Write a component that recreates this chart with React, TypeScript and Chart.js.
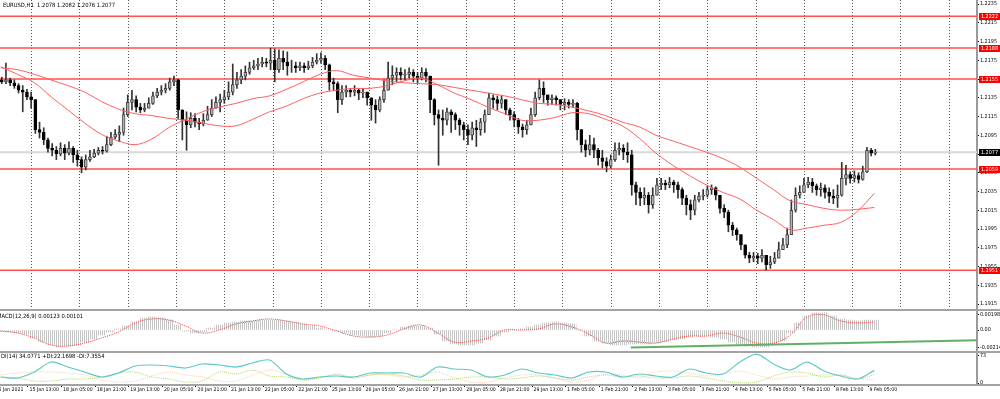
import React, { useEffect, useRef } from 'react';
import { Chart, registerables } from 'chart.js';
Chart.register(...registerables);

const FONT = "'Liberation Sans Narrow', 'DejaVu Sans Condensed', 'Liberation Sans', sans-serif";

// ---------- time axis (hourly bar index) ----------
const X_MIN = -0.33;
const X_MAX = 464.9;
const GRID_START = 14.43;
const GRID_STEP = 23;
const tickBars = [-3.2, 13, 29, 45, 61, 77, 93, 109, 125, 141, 157, 173, 189, 205, 221, 237, 253, 269, 285, 301, 317, 333, 349, 365, 381, 397, 413];
const tickLabels = ['15 Jan 2021', '15 Jan 13:00', '18 Jan 05:00', '18 Jan 21:00', '19 Jan 13:00', '20 Jan 05:00', '20 Jan 21:00', '21 Jan 13:00', '22 Jan 05:00', '22 Jan 21:00', '25 Jan 13:00', '26 Jan 05:00', '26 Jan 21:00', '27 Jan 13:00', '28 Jan 05:00', '28 Jan 21:00', '29 Jan 13:00', '1 Feb 05:00', '1 Feb 21:00', '2 Feb 13:00', '3 Feb 05:00', '3 Feb 21:00', '4 Feb 13:00', '5 Feb 05:00', '5 Feb 21:00', '8 Feb 13:00', '9 Feb 05:00'];

// ---------- price panel ----------
const titleText = 'EURUSD,H1  1.2078 1.2082 1.2076 1.2077';
const PRICE_MIN = 1.190967;
const PRICE_MAX = 1.223927;
const priceTicks = [1.2235, 1.2215, 1.2195, 1.2175, 1.2155, 1.2135, 1.2115, 1.2095, 1.2075, 1.2055, 1.2035, 1.2015, 1.1995, 1.1975, 1.1955, 1.1935, 1.1915];
const levelPrices = [1.2222, 1.2188, 1.2155, 1.2059, 1.1951];
const lastPrice = 1.2077;

// 2-hour candles, open = previous close
const firstOpen = 1.2154;
const candleClose = [
  1.2152, 1.2154, 1.2151, 1.2148, 1.2143, 1.2141, 1.2136, 1.2133, 1.2101, 1.2098,
  1.2090, 1.2081, 1.2079, 1.2075, 1.2081, 1.2076, 1.2081, 1.2074, 1.2069, 1.2061,
  1.2069, 1.2072, 1.2076, 1.2079, 1.2078, 1.2085, 1.2093, 1.2096, 1.2098, 1.2117,
  1.2130, 1.2133, 1.2125, 1.2122, 1.2124, 1.2129, 1.2137, 1.2141, 1.2143, 1.2145,
  1.2152, 1.2154, 1.2122, 1.2111, 1.2106, 1.2113, 1.2109, 1.2107, 1.2111, 1.2117,
  1.2124, 1.2130, 1.2133, 1.2136, 1.2141, 1.2149, 1.2154, 1.2158, 1.2162, 1.2167,
  1.2169, 1.2171, 1.2173, 1.2172, 1.2175, 1.2165, 1.2177, 1.2173, 1.2169, 1.2169,
  1.2167, 1.2169, 1.2167, 1.2169, 1.2173, 1.2175, 1.2177, 1.2170, 1.2152, 1.2150,
  1.2133, 1.2141, 1.2143, 1.2141, 1.2143, 1.2140, 1.2141, 1.2135, 1.2127, 1.2122,
  1.2133, 1.2143, 1.2156, 1.2159, 1.2162, 1.2159, 1.2160, 1.2162, 1.2158, 1.2156,
  1.2162, 1.2158, 1.2133, 1.2117, 1.2113, 1.2111, 1.2120, 1.2117, 1.2111, 1.2106,
  1.2101, 1.2095, 1.2103, 1.2101, 1.2109, 1.2117, 1.2135, 1.2133, 1.2129, 1.2133,
  1.2122, 1.2117, 1.2111, 1.2104, 1.2101, 1.2106, 1.2117, 1.2135, 1.2145, 1.2138,
  1.2133, 1.2135, 1.2133, 1.2128, 1.2130, 1.2128, 1.2129, 1.2101, 1.2085, 1.2079,
  1.2085, 1.2079, 1.2071, 1.2067, 1.2062, 1.2069, 1.2079, 1.2081, 1.2077, 1.2074,
  1.2042, 1.2034, 1.2028, 1.2031, 1.2021, 1.2031, 1.2042, 1.2044, 1.2042, 1.2045,
  1.2042, 1.2037, 1.2028, 1.2021, 1.2015, 1.2026, 1.2030, 1.2031, 1.2037, 1.2039,
  1.2031, 1.2017, 1.2013, 1.1999, 1.1994, 1.1989, 1.1978, 1.1967, 1.1964, 1.1966,
  1.1964, 1.1967, 1.1957, 1.1960, 1.1964, 1.1973, 1.1978, 1.1989, 1.2015, 1.2031,
  1.2034, 1.2042, 1.2045, 1.2041, 1.2037, 1.2039, 1.2034, 1.2030, 1.2028, 1.2031,
  1.2049, 1.2053, 1.2049, 1.2052, 1.2048, 1.2056, 1.2079, 1.2076, 1.2077
];
const candleHigh = [
  1.2157, 1.2172, 1.2156, 1.2154, 1.2150, 1.2148, 1.2144, 1.2141, 1.2133, 1.2109,
  1.2103, 1.2092, 1.2086, 1.2083, 1.2087, 1.2085, 1.2088, 1.2083, 1.2079, 1.2072,
  1.2074, 1.2079, 1.2080, 1.2082, 1.2083, 1.2094, 1.2098, 1.2101, 1.2105, 1.2124,
  1.2138, 1.2143, 1.2137, 1.2129, 1.2129, 1.2135, 1.2141, 1.2145, 1.2148, 1.2150,
  1.2156, 1.2158, 1.2155, 1.2122, 1.2120, 1.2119, 1.2118, 1.2113, 1.2118, 1.2126,
  1.2133, 1.2136, 1.2139, 1.2143, 1.2152, 1.2171, 1.2162, 1.2165, 1.2169, 1.2173,
  1.2175, 1.2177, 1.2178, 1.2177, 1.2188, 1.2187, 1.2186, 1.2185, 1.2184, 1.2175,
  1.2173, 1.2173, 1.2172, 1.2174, 1.2178, 1.2182, 1.2183, 1.2180, 1.2171, 1.2156,
  1.2152, 1.2148, 1.2148, 1.2145, 1.2148, 1.2145, 1.2145, 1.2141, 1.2135, 1.2133,
  1.2136, 1.2154, 1.2173, 1.2169, 1.2167, 1.2167, 1.2165, 1.2167, 1.2165, 1.2162,
  1.2167, 1.2166, 1.2158, 1.2134, 1.2122, 1.2122, 1.2124, 1.2122, 1.2119, 1.2113,
  1.2109, 1.2106, 1.2109, 1.2111, 1.2113, 1.2122, 1.2140, 1.2138, 1.2137, 1.2137,
  1.2133, 1.2124, 1.2120, 1.2113, 1.2107, 1.2111, 1.2124, 1.2141, 1.2154, 1.2152,
  1.2138, 1.2138, 1.2137, 1.2133, 1.2134, 1.2133, 1.2133, 1.2130, 1.2101, 1.2090,
  1.2095, 1.2092, 1.2081, 1.2079, 1.2071, 1.2074, 1.2087, 1.2087, 1.2085, 1.2087,
  1.2079, 1.2045, 1.2039, 1.2039, 1.2034, 1.2039, 1.2049, 1.2049, 1.2047, 1.2050,
  1.2047, 1.2045, 1.2039, 1.2031, 1.2026, 1.2031, 1.2034, 1.2037, 1.2041, 1.2042,
  1.2040, 1.2031, 1.2021, 1.2015, 1.2002, 1.1996, 1.1989, 1.1978, 1.1970, 1.1970,
  1.1969, 1.1973, 1.1967, 1.1966, 1.1970, 1.1981, 1.1985, 1.1996, 1.2026, 1.2039,
  1.2041, 1.2049, 1.2050, 1.2049, 1.2043, 1.2044, 1.2042, 1.2039, 1.2037, 1.2042,
  1.2066, 1.2063, 1.2056, 1.2057, 1.2055, 1.2062, 1.2082, 1.2081, 1.2080
];
const candleLow = [
  1.2150, 1.2150, 1.2148, 1.2145, 1.2140, 1.2120, 1.2133, 1.2124, 1.2097, 1.2092,
  1.2085, 1.2077, 1.2073, 1.2069, 1.2073, 1.2069, 1.2074, 1.2066, 1.2062, 1.2055,
  1.2058, 1.2067, 1.2071, 1.2074, 1.2075, 1.2077, 1.2084, 1.2091, 1.2088, 1.2095,
  1.2115, 1.2122, 1.2120, 1.2119, 1.2120, 1.2124, 1.2128, 1.2135, 1.2138, 1.2140,
  1.2143, 1.2148, 1.2113, 1.2090, 1.2079, 1.2103, 1.2104, 1.2101, 1.2105, 1.2111,
  1.2115, 1.2124, 1.2120, 1.2129, 1.2133, 1.2138, 1.2145, 1.2150, 1.2154, 1.2160,
  1.2165, 1.2165, 1.2168, 1.2168, 1.2165, 1.2152, 1.2162, 1.2165, 1.2159, 1.2162,
  1.2162, 1.2164, 1.2162, 1.2165, 1.2167, 1.2171, 1.2172, 1.2165, 1.2143, 1.2143,
  1.2119, 1.2128, 1.2136, 1.2136, 1.2137, 1.2133, 1.2135, 1.2127, 1.2111, 1.2108,
  1.2120, 1.2130, 1.2143, 1.2149, 1.2152, 1.2154, 1.2154, 1.2156, 1.2152, 1.2150,
  1.2154, 1.2152, 1.2119, 1.2106, 1.2063, 1.2095, 1.2106, 1.2098, 1.2101, 1.2095,
  1.2090, 1.2085, 1.2090, 1.2083, 1.2095, 1.2098, 1.2117, 1.2124, 1.2122, 1.2124,
  1.2117, 1.2111, 1.2104, 1.2097, 1.2093, 1.2096, 1.2106, 1.2115, 1.2133, 1.2130,
  1.2127, 1.2128, 1.2127, 1.2122, 1.2122, 1.2124, 1.2125, 1.2090, 1.2077, 1.2072,
  1.2074, 1.2071, 1.2063, 1.2060, 1.2056, 1.2060, 1.2067, 1.2074, 1.2069, 1.2066,
  1.2031, 1.2021, 1.2020, 1.2021, 1.2012, 1.2017, 1.2031, 1.2037, 1.2037, 1.2039,
  1.2034, 1.2028, 1.2021, 1.2010, 1.2005, 1.2010, 1.2024, 1.2026, 1.2029, 1.2032,
  1.2026, 1.2012, 1.2007, 1.1992, 1.1988, 1.1983, 1.1973, 1.1964, 1.1959, 1.1960,
  1.1958, 1.1960, 1.1951, 1.1953, 1.1958, 1.1964, 1.1973, 1.1975, 1.1989, 1.2013,
  1.2028, 1.2034, 1.2039, 1.2034, 1.2031, 1.2030, 1.2028, 1.2023, 1.2022, 1.2018,
  1.2030, 1.2042, 1.2044, 1.2045, 1.2044, 1.2047, 1.2055, 1.2073, 1.2074
];

// moving averages, one value every 8 hourly bars
const MA_STEP = 8;
const maOne = [
  1.2168, 1.2160, 1.2151, 1.2136, 1.2122, 1.2108, 1.2096, 1.2089, 1.2085, 1.2091,
  1.2103, 1.2112, 1.2120, 1.2125, 1.2129, 1.2134, 1.2137, 1.2144, 1.2152, 1.2160,
  1.2164, 1.2159, 1.2156, 1.2153, 1.2151, 1.2150, 1.2149, 1.2146, 1.2143, 1.2140,
  1.2137, 1.2133, 1.2129, 1.2128, 1.2125, 1.2121, 1.2116, 1.2109, 1.2104, 1.2095,
  1.2089, 1.2083, 1.2077, 1.2070, 1.2061, 1.2049, 1.2037, 1.2025, 1.2021, 1.2017,
  1.2015, 1.2016, 1.2018
];
const maTwo = [
  1.2167, 1.2165, 1.2160, 1.2154, 1.2148, 1.2141, 1.2131, 1.2123, 1.2118, 1.2116,
  1.2113, 1.2111, 1.2108, 1.2105, 1.2105, 1.2112, 1.2120, 1.2126, 1.2134, 1.2140,
  1.2143, 1.2145, 1.2145, 1.2148, 1.2153, 1.2156, 1.2149, 1.2140, 1.2133, 1.2125,
  1.2118, 1.2111, 1.2111, 1.2114, 1.2119, 1.2118, 1.2112, 1.2105, 1.2092, 1.2076,
  1.2063, 1.2052, 1.2042, 1.2034, 1.2027, 1.2015, 1.2005, 1.1994, 1.1996, 1.1999,
  1.2002, 1.2014, 1.2033
];

// ---------- MACD panel ----------
const macdTitle = 'MACD(12,26,9) 0.00123 0.00101';
const MACD_MIN = -0.002625;
const MACD_MAX = 0.002375;
const macdTickValues = [0.00198, 0, -0.00214];
const macdTickLabels = ['0.00198', '0.00', '-0.00214'];
const HIST_STEP = 4;
const macdHist = [
  -0.00013, -0.00025, -0.00038, -0.0005, -0.001, -0.0015, -0.00188, -0.00213, -0.002, -0.00188,
  -0.0015, -0.00113, -0.00063, -0.00025, 0.00013, 0.0005, 0.001, 0.0015, 0.00163, 0.0015,
  0.00125, 0.00063, -0.00013, -0.00038, -0.00025, 0.00025, 0.00063, 0.00088, 0.001, 0.00113,
  0.00113, 0.00125, 0.00125, 0.00125, 0.00113, 0.001, 0.00075, 0.0005, 0.00025, 0,
  -0.00013, -0.00038, -0.00063, -0.00075, -0.00088, -0.00075, -0.00038, 0, 0.00038, 0.0005,
  0.0005, 0.00025, -0.0005, -0.00138, -0.00175, -0.00188, -0.00188, -0.00163, -0.00125, -0.00075,
  -0.00025, 0, 0.00013, 0.00038, 0.00063, 0.00088, 0.001, 0.00088, 0.00075, 0,
  -0.00075, -0.00138, -0.00163, -0.00188, -0.00188, -0.00175, -0.00175, -0.00175, -0.00163, -0.0015,
  -0.00125, -0.00113, -0.00088, -0.00075, -0.00075, -0.00088, -0.00113, -0.0015, -0.00175, -0.002,
  -0.00213, -0.00213, -0.00188, -0.00138, -0.00038, 0.00088, 0.00175, 0.00213, 0.00213, 0.00175,
  0.00138, 0.00125, 0.00113, 0.00125, 0.00123
];
const SIG_STEP = 8;
const macdSignal = [
  -0.00013, -0.00038, -0.001, -0.00188, -0.002, -0.00163, -0.001, -0.00025, 0.00088, 0.00138,
  0.00125, 0.0005, -0.00038, 0, 0.00075, 0.00113, 0.00138, 0.00113, 0.00075, 0.0005,
  -0.00013, -0.00075, -0.00088, -0.00063, 0.00013, 0.00063, -0.00038, -0.0015, -0.00138, -0.001,
  0, 0, 0.00013, 0.00075, 0.00038, -0.0005, -0.00163, -0.00138, -0.0015, -0.00163,
  -0.00113, -0.00075, -0.00075, -0.00038, -0.00088, -0.00163, -0.00163, -0.00063, 0.00163, 0.00188,
  0.00113, 0.00088, 0.00101
];
const trendBars = [300, 464.9];
const trendValues = [-0.0022, -0.00129];

// ---------- ADX / DI panel ----------
const dmiTitle = 'DI(14) 34.0771 +DI:22.1698 -DI:7.3554';
const DMI_MIN = -2.7;
const DMI_MAX = 81.1;
const dmiTickValues = [73, 0];
const DMI_STEP = 8;
const adxLine = [
  16.2, 13.5, 29.7, 56.7, 43.2, 29.7, 16.2, 27, 45.9, 48.6,
  45.9, 40.5, 51.3, 48.6, 43.2, 54, 62.1, 24.3, 10.8, 16.2,
  18.9, 16.2, 27, 27, 27, 16.2, 43.2, 37.8, 35.1, 16.2,
  21.6, 37.8, 27, 21.6, 13.5, 29.7, 29.7, 16.2, 24.3, 18.9,
  16.2, 37.8, 27, 24.3, 56.7, 78.3, 51.3, 35.1, 56.7, 32.4,
  18.9, 10.8, 34.1
];
const plusDI = [
  16.2, 13.5, 5.4, 5.4, 10.8, 10.8, 16.2, 27, 29.7, 16.2,
  10.8, 2.7, 5.4, 29.7, 24.3, 35.1, 18.9, 16.2, 8.1, 13.5,
  24.3, 13.5, 21.6, 24.3, 18.9, 8.1, 8.1, 10.8, 16.2, 16.2,
  10.8, 13.5, 18.9, 13.5, 8.1, 16.2, 21.6, 16.2, 18.9, 13.5,
  13.5, 18.9, 13.5, 5.4, 0.5, 2.7, 18.9, 29.7, 27, 16.2,
  21.6, 10.8, 22.2
];
const minusDI = [
  21.6, 27, 29.7, 29.7, 27, 21.6, 8.1, 2.7, 5.4, 18.9,
  29.7, 21.6, 16.2, 5.4, 5.4, 21.6, 35.1, 24.3, 10.8, 16.2,
  21.6, 16.2, 21.6, 21.6, 16.2, 21.6, 29.7, 13.5, 2.7, 2.7,
  13.5, 21.6, 21.6, 13.5, 2.7, 8.1, 24.3, 21.6, 13.5, 29.7,
  32.4, 27, 18.9, 24.3, 32.4, 21.6, 10.8, 16.2, 18.9, 21.6,
  21.6, 13.5, 7.4
];

// ---------- helpers ----------
const yTickFont = { family: FONT, size: 5.4 };
const xTickFont = { family: FONT, size: 5.2 };

function rightAxis(min: number, max: number, values: number[], fmt: (v: number) => string) {
  return {
    position: 'right' as const,
    min,
    max,
    afterBuildTicks: (s: any) => {
      s.ticks = values.map((v) => ({ value: v }));
    },
    afterFit: (s: any) => {
      s.width = 23;
      s.paddingTop = 0;
      s.paddingBottom = 0;
    },
    ticks: {
      font: yTickFont,
      color: '#000',
      padding: 1,
      autoSkip: false,
      callback: (v: any) => fmt(Number(v)),
    },
    grid: { drawOnChartArea: false, drawTicks: true, tickLength: 2, color: '#000' },
    border: { display: true, color: '#9a9a9a', width: 2 },
  };
}

const hiddenX = { type: 'linear' as const, min: X_MIN, max: X_MAX, display: false, offset: false, grid: { offset: false } };

function baseOptions(scales: any, plugins: any = {}) {
  return {
    responsive: false,
    animation: false as const,
    devicePixelRatio: 1,
    events: [] as any[],
    layout: { padding: 0 },
    plugins: { legend: { display: false }, tooltip: { enabled: false }, ...plugins },
    scales,
  };
}

export default function App() {
  const pRef = useRef<HTMLCanvasElement>(null);
  const mRef = useRef<HTMLCanvasElement>(null);
  const dRef = useRef<HTMLCanvasElement>(null);

  useEffect(() => {
    const opens = candleClose.map((_, i) => (i === 0 ? firstOpen : candleClose[i - 1]));
    const cx = (i: number) => 2 * i + 0.5;

    const pricePlugin = {
      id: 'priceDecor',
      beforeDatasetsDraw(chart: any) {
        const { ctx, chartArea, scales } = chart;
        const xs = scales.x;
        const ys = scales.y;
        ctx.save();
        ctx.strokeStyle = '#555';
        ctx.lineWidth = 1;
        ctx.setLineDash([1, 2]);
        for (let h = GRID_START; h <= X_MAX; h += GRID_STEP) {
          const x = Math.round(xs.getPixelForValue(h)) + 0.5;
          ctx.beginPath();
          ctx.moveTo(x, chartArea.top);
          ctx.lineTo(x, chartArea.bottom);
          ctx.stroke();
        }
        ctx.setLineDash([]);
        const yl = ys.getPixelForValue(lastPrice);
        ctx.strokeStyle = '#d9d9d9';
        ctx.lineWidth = 2;
        ctx.beginPath();
        ctx.moveTo(chartArea.left, yl);
        ctx.lineTo(chartArea.right, yl);
        ctx.stroke();
        ctx.strokeStyle = 'rgb(255,80,80)';
        ctx.lineWidth = 1.5;
        levelPrices.forEach((p) => {
          const y = ys.getPixelForValue(p);
          ctx.beginPath();
          ctx.moveTo(chartArea.left, y);
          ctx.lineTo(chartArea.right, y);
          ctx.stroke();
        });
        ctx.restore();
      },
      afterDraw(chart: any) {
        const { ctx, chartArea, scales } = chart;
        const ys = scales.y;
        ctx.save();
        ctx.textBaseline = 'middle';
        ctx.textAlign = 'left';
        ctx.font = `5.4px ${FONT}`;
        const box = (p: number, bg: string) => {
          const y = ys.getPixelForValue(p);
          ctx.fillStyle = bg;
          ctx.fillRect(chartArea.right + 2, Math.round(y) - 3, 21, 7);
          ctx.fillStyle = '#fff';
          ctx.fillText(p.toFixed(4), chartArea.right + 4, Math.round(y) + 0.5);
        };
        levelPrices.forEach((p) => box(p, '#ff0000'));
        box(lastPrice, '#000000');
        ctx.font = `5.8px ${FONT}`;
        ctx.fillStyle = '#000';
        ctx.fillText(titleText, 3, 5);
        ctx.restore();
      },
    };

    const priceChart = new Chart(pRef.current as HTMLCanvasElement, {
      type: 'bar',
      data: {
        datasets: [
          {
            type: 'line',
            data: maOne.map((v, i) => ({ x: i * MA_STEP, y: v })),
            borderColor: 'rgb(255,95,95)',
            borderWidth: 1,
            pointRadius: 0,
            tension: 0.35,
            order: 1,
          },
          {
            type: 'line',
            data: maTwo.map((v, i) => ({ x: i * MA_STEP, y: v })),
            borderColor: 'rgb(255,95,95)',
            borderWidth: 1,
            pointRadius: 0,
            tension: 0.35,
            order: 1,
          },
          {
            type: 'bar',
            data: candleClose.map((_, i) => ({ x: cx(i), y: [candleLow[i], candleHigh[i]] })),
            backgroundColor: '#333',
            barThickness: 1,
            grouped: false,
            order: 3,
          },
          {
            type: 'bar',
            data: candleClose.map((c, i) => ({ x: cx(i), y: [opens[i], c] })),
            backgroundColor: candleClose.map((c, i) => (c >= opens[i] ? '#b4b4b4' : '#000000')),
            borderColor: candleClose.map((c, i) => (c >= opens[i] ? '#444' : '#000')),
            borderWidth: 1,
            borderSkipped: false,
            barThickness: 3,
            grouped: false,
            order: 2,
          },
        ] as any,
      },
      options: baseOptions({
        x: hiddenX,
        y: rightAxis(PRICE_MIN, PRICE_MAX, priceTicks, (v) => v.toFixed(4)),
      }) as any,
      plugins: [pricePlugin],
    });

    // MACD
    const pc = document.createElement('canvas');
    pc.width = 2;
    pc.height = 1;
    const pg = pc.getContext('2d') as CanvasRenderingContext2D;
    pg.fillStyle = '#c4c4c4';
    pg.fillRect(0, 0, 1, 1);
    const mctx = (mRef.current as HTMLCanvasElement).getContext('2d') as CanvasRenderingContext2D;
    const hatch = mctx.createPattern(pc, 'repeat') as CanvasPattern;

    const titlePlugin = (text: string, x: number, y: number) => ({
      id: 'title' + y,
      afterDraw(chart: any) {
        const ctx = chart.ctx;
        ctx.save();
        ctx.font = `5.8px ${FONT}`;
        ctx.textBaseline = 'middle';
        ctx.textAlign = 'left';
        ctx.fillStyle = '#000';
        ctx.fillText(text, x, y);
        ctx.restore();
      },
    });

    const macdChart = new Chart(mRef.current as HTMLCanvasElement, {
      type: 'bar',
      data: {
        datasets: [
          {
            type: 'line',
            data: trendBars.map((b, i) => ({ x: b, y: trendValues[i] })),
            borderColor: 'rgb(100,175,100)',
            borderWidth: 2,
            pointRadius: 0,
            order: 0,
          },
          {
            type: 'line',
            data: macdSignal.map((v, i) => ({ x: i * SIG_STEP, y: v })),
            borderColor: 'rgb(255,60,60)',
            borderWidth: 1,
            borderDash: [1, 1],
            pointRadius: 0,
            tension: 0.4,
            order: 1,
          },
          {
            type: 'bar',
            data: macdHist.map((v, i) => ({ x: i * HIST_STEP, y: v })),
            backgroundColor: hatch,
            borderWidth: 0,
            barPercentage: 1,
            categoryPercentage: 1,
            order: 2,
          },
        ] as any,
      },
      options: baseOptions({
        x: hiddenX,
        y: rightAxis(MACD_MIN, MACD_MAX, macdTickValues, (v) => {
          const i = macdTickValues.findIndex((t) => Math.abs(t - v) < 1e-9);
          return i >= 0 ? macdTickLabels[i] : '';
        }),
      }) as any,
      plugins: [titlePlugin(macdTitle, -3, 5)],
    });

    const dmiChart = new Chart(dRef.current as HTMLCanvasElement, {
      type: 'line',
      data: {
        datasets: [
          {
            data: adxLine.map((v, i) => ({ x: i * DMI_STEP, y: v })),
            borderColor: 'rgb(95,200,200)',
            borderWidth: 1.2,
            pointRadius: 0,
            tension: 0.3,
          },
          {
            data: plusDI.map((v, i) => ({ x: i * DMI_STEP, y: v })),
            borderColor: 'rgb(175,215,110)',
            borderWidth: 1,
            borderDash: [1, 1],
            pointRadius: 0,
            tension: 0.3,
          },
          {
            data: minusDI.map((v, i) => ({ x: i * DMI_STEP, y: v })),
            borderColor: 'rgb(250,205,165)',
            borderWidth: 1,
            borderDash: [1, 1],
            pointRadius: 0,
            tension: 0.3,
          },
        ] as any,
      },
      options: baseOptions({
        x: {
          type: 'linear',
          min: X_MIN,
          max: X_MAX,
          offset: false,
          position: 'bottom',
          afterBuildTicks: (s: any) => {
            s.ticks = tickBars.map((v) => ({ value: v }));
          },
          afterFit: (s: any) => {
            s.height = 15;
            s.paddingLeft = 0;
            s.paddingRight = 0;
          },
          ticks: {
            font: xTickFont,
            color: '#000',
            align: 'start',
            padding: 0,
            maxRotation: 0,
            minRotation: 0,
            autoSkip: false,
            callback: (v: any) => {
              const i = tickBars.indexOf(Number(v));
              return i >= 0 ? ' ' + tickLabels[i] : '';
            },
          },
          grid: { drawOnChartArea: false, drawTicks: true, tickLength: 3, color: '#000', offset: false },
          border: { display: false },
        },
        y: rightAxis(DMI_MIN, DMI_MAX, dmiTickValues, (v) => String(Math.round(v))),
      }) as any,
      plugins: [titlePlugin(dmiTitle, 1, 3.5)],
    });

    return () => {
      priceChart.destroy();
      macdChart.destroy();
      dmiChart.destroy();
    };
  }, []);

  const sep = (top: number) => (
    <div style={{ position: 'absolute', left: 0, top, width: 1000, height: 2, background: '#a3a3a3' }} />
  );

  return (
    <div style={{ position: 'fixed', left: 0, top: 0, width: 1000, height: 399, background: '#fff', overflow: 'hidden' }}>
      <canvas ref={pRef} width={1000} height={309} style={{ position: 'absolute', left: 0, top: 0 }} />
      {sep(309)}
      <canvas ref={mRef} width={1000} height={40} style={{ position: 'absolute', left: 0, top: 311 }} />
      {sep(351)}
      <canvas ref={dRef} width={1000} height={46} style={{ position: 'absolute', left: 0, top: 353 }} />
      <div style={{ position: 'absolute', left: 0, top: 384, width: 1000, height: 2, background: '#a3a3a3' }} />
    </div>
  );
}
